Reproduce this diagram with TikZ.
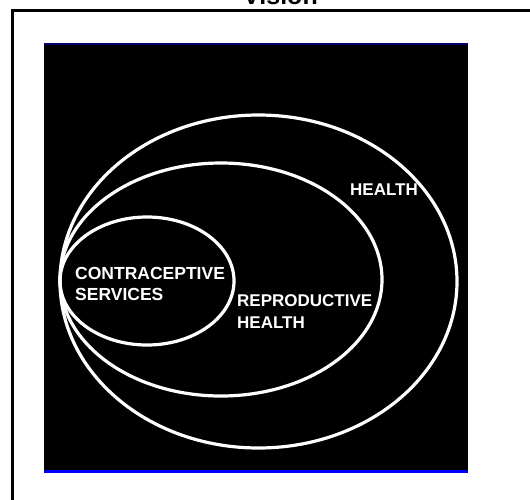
\documentclass[tikz,border=0pt]{standalone}
\usepackage{fontspec}
\setmainfont{Liberation Sans}
\usetikzlibrary{shapes.geometric}
\definecolor{navyline}{RGB}{0,0,110}
\definecolor{blueline}{RGB}{0,0,255}
\tikzset{
	ring/.style={ellipse, draw=white, line width=3.2pt, inner sep=0pt},
	lbl/.style={text=white, font=\bfseries\fontsize{17}{22}\selectfont, align=left, anchor=north west, inner sep=0pt}
}
\begin{document}
\begin{tikzpicture}[x=1pt, y=-1pt]
\useasboundingbox (0,0) rectangle (530,499);

% FRAME
\node(title) at(280.5, 4.5) [anchor=base, font=\bfseries\fontsize{25}{30}\selectfont] {Vision};
\draw[line width=3pt] (12.5, 510) -- (12.5, 10.5) -- (540, 10.5);

% PANEL
\fill (44, 44) rectangle (468, 471);
\draw[navyline, line width=2pt] (44, 44) -- (468, 44);
\draw[blueline, line width=3pt] (44, 471.5) -- (468, 471.5);

% RINGS
\foreach \n/\cx/\cy/\w/\h in{
	health/258.5/281.5/397/333, repro/221/279.5/322/233, contra/147/281/174/128%
}{
	\node[ring, minimum width=\w pt, minimum height=\h pt] (\n) at(\cx, \cy) {};
}

% LABELS
\node[lbl] (healthtext) at(350, 184) {HEALTH};
\node[lbl] (reprotext) at(237, 294) {REPRODUCTIVE\\HEALTH};
\node[lbl, font=\bfseries\fontsize{17.5}{21}\selectfont] (contratext) at(75, 267) {CONTRACEPTIVE\\SERVICES};

\end{tikzpicture}
\end{document}
